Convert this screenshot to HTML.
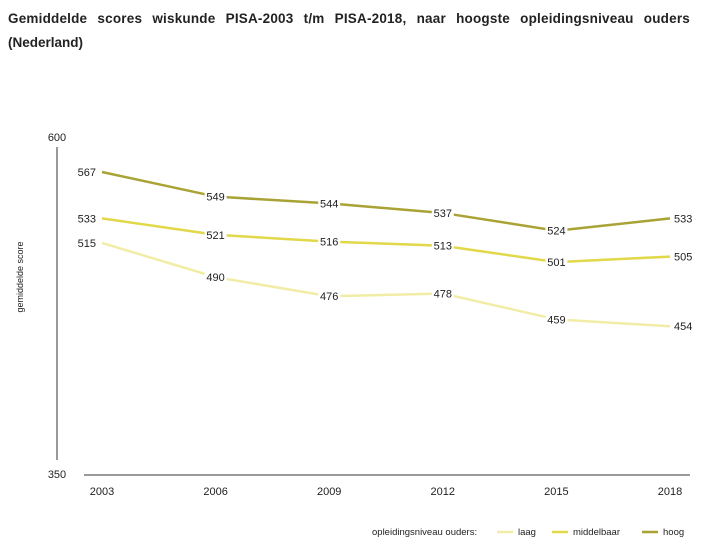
<!DOCTYPE html>
<html><head><meta charset="utf-8"><style>
body{margin:0;background:#fff;width:705px;height:553px;overflow:hidden;font-family:"Liberation Sans",sans-serif;}
.tl{position:absolute;left:8px;font-size:13.5px;font-weight:bold;color:#222;line-height:22px;}
#t1{top:8px;width:682px;text-align:justify;text-align-last:justify;letter-spacing:0.2px;}
#t2{top:32px;}
</style></head><body>
<div>
<div id="t1" class="tl">Gemiddelde scores wiskunde PISA-2003 t/m PISA-2018, naar hoogste opleidingsniveau ouders</div>
<div id="t2" class="tl">(Nederland)</div>
</div>
<svg id="chart" width="705" height="553" style="position:absolute;left:0;top:0"></svg>
<script>
const years=["2003","2006","2009","2012","2015","2018"];
const laag=[515,490,476,478,459,454];
const middelbaar=[533,521,516,513,501,505];
const hoog=[567,549,544,537,524,533];
const yTicks=[600,350];
const svg=document.getElementById('chart');
const NS='http://www.w3.org/2000/svg';
function X(i){return 102+i*113.6;}
function Y(v){return 172+(567-v)*1.365;}
function mk(t,a,p){const e=document.createElementNS(NS,t);for(const k in a)e.setAttribute(k,a[k]);(p||svg).appendChild(e);return e;}
let e;
e=mk('line',{x1:57,y1:147,x2:57,y2:460,stroke:'#999','stroke-width':2});


e=mk('line',{x1:84,y1:475,x2:690,y2:475,stroke:'#999','stroke-width':2});


e=mk('text',{x:57,y:141,'font-size':11,'text-anchor':'middle',fill:'#222'});e.textContent=yTicks[0];


e=mk('text',{x:57,y:478,'font-size':11,'text-anchor':'middle',fill:'#222'});e.textContent=yTicks[1];


e=mk('text',{x:0,y:0,'font-size':9,'text-anchor':'middle',fill:'#222',transform:'translate(23,277) rotate(-90)'});e.textContent='gemiddelde score';


years.forEach((y,i)=>{const t=mk('text',{x:X(i),y:495,'font-size':11,'text-anchor':'middle',fill:'#222'});t.textContent=y;

});
const series=[['laag',laag,'#f2eda6'],['middelbaar',middelbaar,'#e1d84a'],['hoog',hoog,'#a9a234']];
series.forEach(([n,d,c])=>{
 const l=mk('polyline',{points:d.map((v,i)=>X(i)+','+Y(v)).join(' '),fill:'none',stroke:c,'stroke-width':2.5});
 
 
});
series.forEach(([n,d,c])=>{
 d.forEach((v,i)=>{
  let x=X(i),anchor='middle';
  if(i==0){x=X(i)-6;anchor='end';}
  if(i==5){x=X(i)+4;anchor='start';}
  if(i>0&&i<5){mk('rect',{x:x-11,y:Y(v)-6,width:22,height:12,fill:'#fff'});}
  const t=mk('text',{x:x,y:Y(v)+4,'font-size':11,'text-anchor':anchor,fill:'#222'});t.textContent=v;
  
  
 });
});
const lg=mk('g',{});


e=mk('text',{x:372,y:535,'font-size':9.5,fill:'#222'},lg);e.textContent='opleidingsniveau ouders:';
[['laag',497,'#f2eda6'],['middelbaar',552,'#e1d84a'],['hoog',642,'#a9a234']].forEach(([n,x,c])=>{
 const g=mk('g',{},lg);
 
 
 mk('line',{x1:x,y1:532,x2:x+16,y2:532,stroke:c,'stroke-width':2.5},g);
 const t=mk('text',{x:x+21,y:535,'font-size':9.5,fill:'#222'},g);t.textContent=n;
});
</script>
</body></html>
